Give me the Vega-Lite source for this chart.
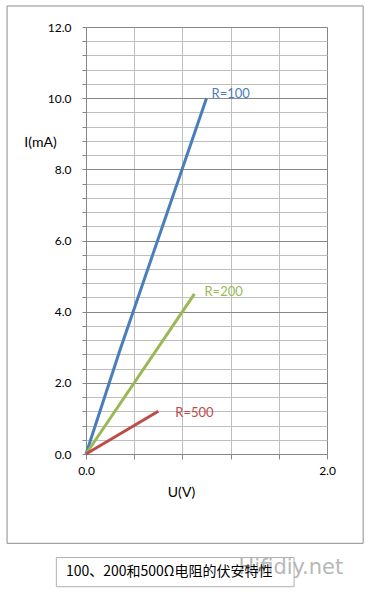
{
  "$schema": "https://vega.github.io/schema/vega-lite/v6.json",
  "width": 241,
  "height": 427,
  "autosize": "none",
  "padding": {"left": 86, "top": 27, "right": 42, "bottom": 140},
  "background": "white",
  "config": {"view": {"stroke": null}, "font": "Lato"},
  "datasets": {
    "lines": [
      {"R": "R=100", "U": 0, "I": 0},
      {"R": "R=100", "U": 0.28, "I": 2.9},
      {"R": "R=100", "U": 1.0, "I": 10.0},
      {"R": "R=200", "U": 0, "I": 0},
      {"R": "R=200", "U": 0.9, "I": 4.5},
      {"R": "R=500", "U": 0, "I": 0},
      {"R": "R=500", "U": 0.6, "I": 1.2}
    ],
    "labels": [
      {"R": "R=100", "U": 1.0, "I": 10.0},
      {"R": "R=200", "U": 0.9, "I": 4.5},
      {"R": "R=500", "U": 0.6, "I": 1.2}
    ],
    "boxes": [
      {"name": "frame", "U": -0.655, "U2": 2.3, "I": -2.51, "I2": 12.59},
      {"name": "caption", "U": -0.246, "U2": 1.727, "I": -3.73, "I2": -2.91}
    ],
    "notes": [
      {"name": "caption", "U": 0.69, "I": -3.32, "text": "100、200和500Ω电阻的伏安特性"},
      {"name": "mark", "U": 1.70, "I": -3.2, "text": "Hifidiy.net"}
    ]
  },
  "encoding": {
    "x": {
      "field": "U", "type": "quantitative",
      "scale": {"domain": [0, 2], "nice": false, "zero": false},
      "axis": {
        "title": "U(V)",
        "values": [0, 0.4, 0.8, 1.2, 1.6, 2.0],
        "labelExpr": "datum.value == 0 || datum.value == 2 ? format(datum.value, '.1f') : ''",
        "grid": true,
        "gridColor": {"condition": {"test": "datum.value == 2", "value": "#878787"}, "value": "#bfbfbf"},
        "domainColor": "#878787",
        "tickColor": "#878787",
        "tickSize": 5,
        "labelPadding": 6,
        "labelFontSize": 12,
        "labelColor": "#000000",
        "labelFlush": false,
        "titleFontSize": 14,
        "titleFontWeight": "normal",
        "titleColor": "#000000",
        "titleX": 95,
        "titleY": 38,
        "titleBaseline": "middle"
      }
    },
    "y": {
      "field": "I", "type": "quantitative",
      "scale": {"domain": [0, 12], "nice": false, "zero": false},
      "axis": {
        "title": "I(mA)",
        "values": [0, 0.4, 0.8, 1.2, 1.6, 2, 2.4, 2.8, 3.2, 3.6, 4, 4.4, 4.8, 5.2, 5.6, 6, 6.4, 6.8, 7.2, 7.6, 8, 8.4, 8.8, 9.2, 9.6, 10, 10.4, 10.8, 11.2, 11.6, 12],
        "labelExpr": "datum.value % 2 == 0 ? format(datum.value, '.1f') : ''",
        "grid": true,
        "gridColor": {"condition": {"test": "datum.value % 2 == 0", "value": "#878787"}, "value": "#bfbfbf"},
        "domainColor": "#878787",
        "tickColor": "#878787",
        "tickSize": 4,
        "labelPadding": 11,
        "labelFontSize": 12,
        "labelColor": "#000000",
        "labelFlush": false,
        "titleAngle": 0,
        "titleFontSize": 14,
        "titleFontWeight": "normal",
        "titleColor": "#000000",
        "titleX": -46,
        "titleY": 115,
        "titleAlign": "center",
        "titleBaseline": "middle"
      }
    }
  },
  "layer": [
    {
      "data": {"name": "boxes"},
      "transform": [{"filter": "datum.name == 'frame'"}],
      "mark": {"type": "rect", "fillOpacity": 0, "stroke": "#8c8c8c", "strokeWidth": 1},
      "encoding": {"x2": {"field": "U2"}, "y2": {"field": "I2"}}
    },
    {
      "data": {"name": "boxes"},
      "transform": [{"filter": "datum.name == 'caption'"}],
      "mark": {"type": "rect", "fillOpacity": 0, "stroke": "#b0b0b0", "strokeWidth": 1},
      "encoding": {"x2": {"field": "U2"}, "y2": {"field": "I2"}}
    },
    {
      "data": {"name": "lines"},
      "mark": {"type": "line", "strokeWidth": 3},
      "encoding": {
        "color": {
          "field": "R", "type": "nominal",
          "scale": {"domain": ["R=100", "R=200", "R=500"], "range": ["#4a7ebb", "#98b954", "#be4b48"]},
          "legend": null
        }
      }
    },
    {
      "data": {"name": "labels"},
      "transform": [{"filter": "datum.R == 'R=100'"}],
      "mark": {"type": "text", "align": "left", "baseline": "middle", "dx": 5, "dy": -4, "fontSize": 13},
      "encoding": {"text": {"field": "R"}, "color": {"field": "R", "type": "nominal", "legend": null}}
    },
    {
      "data": {"name": "labels"},
      "transform": [{"filter": "datum.R == 'R=200'"}],
      "mark": {"type": "text", "align": "left", "baseline": "middle", "dx": 10, "dy": -2, "fontSize": 13},
      "encoding": {"text": {"field": "R"}, "color": {"field": "R", "type": "nominal", "legend": null}}
    },
    {
      "data": {"name": "labels"},
      "transform": [{"filter": "datum.R == 'R=500'"}],
      "mark": {"type": "text", "align": "left", "baseline": "middle", "dx": 17, "dy": 2, "fontSize": 13},
      "encoding": {"text": {"field": "R"}, "color": {"field": "R", "type": "nominal", "legend": null}}
    },
    {
      "data": {"name": "notes"},
      "transform": [{"filter": "datum.name == 'mark'"}],
      "mark": {"type": "text", "align": "center", "baseline": "middle", "fontSize": 21, "font": "DejaVu Sans", "color": "#9a9a9a", "opacity": 0.7},
      "encoding": {"text": {"field": "text"}}
    },
    {
      "data": {"name": "notes"},
      "transform": [{"filter": "datum.name == 'caption'"}],
      "mark": {"type": "text", "align": "center", "baseline": "middle", "fontSize": 14, "font": "Noto Sans CJK SC", "color": "#000000"},
      "encoding": {"text": {"field": "text"}}
    }
  ]
}
